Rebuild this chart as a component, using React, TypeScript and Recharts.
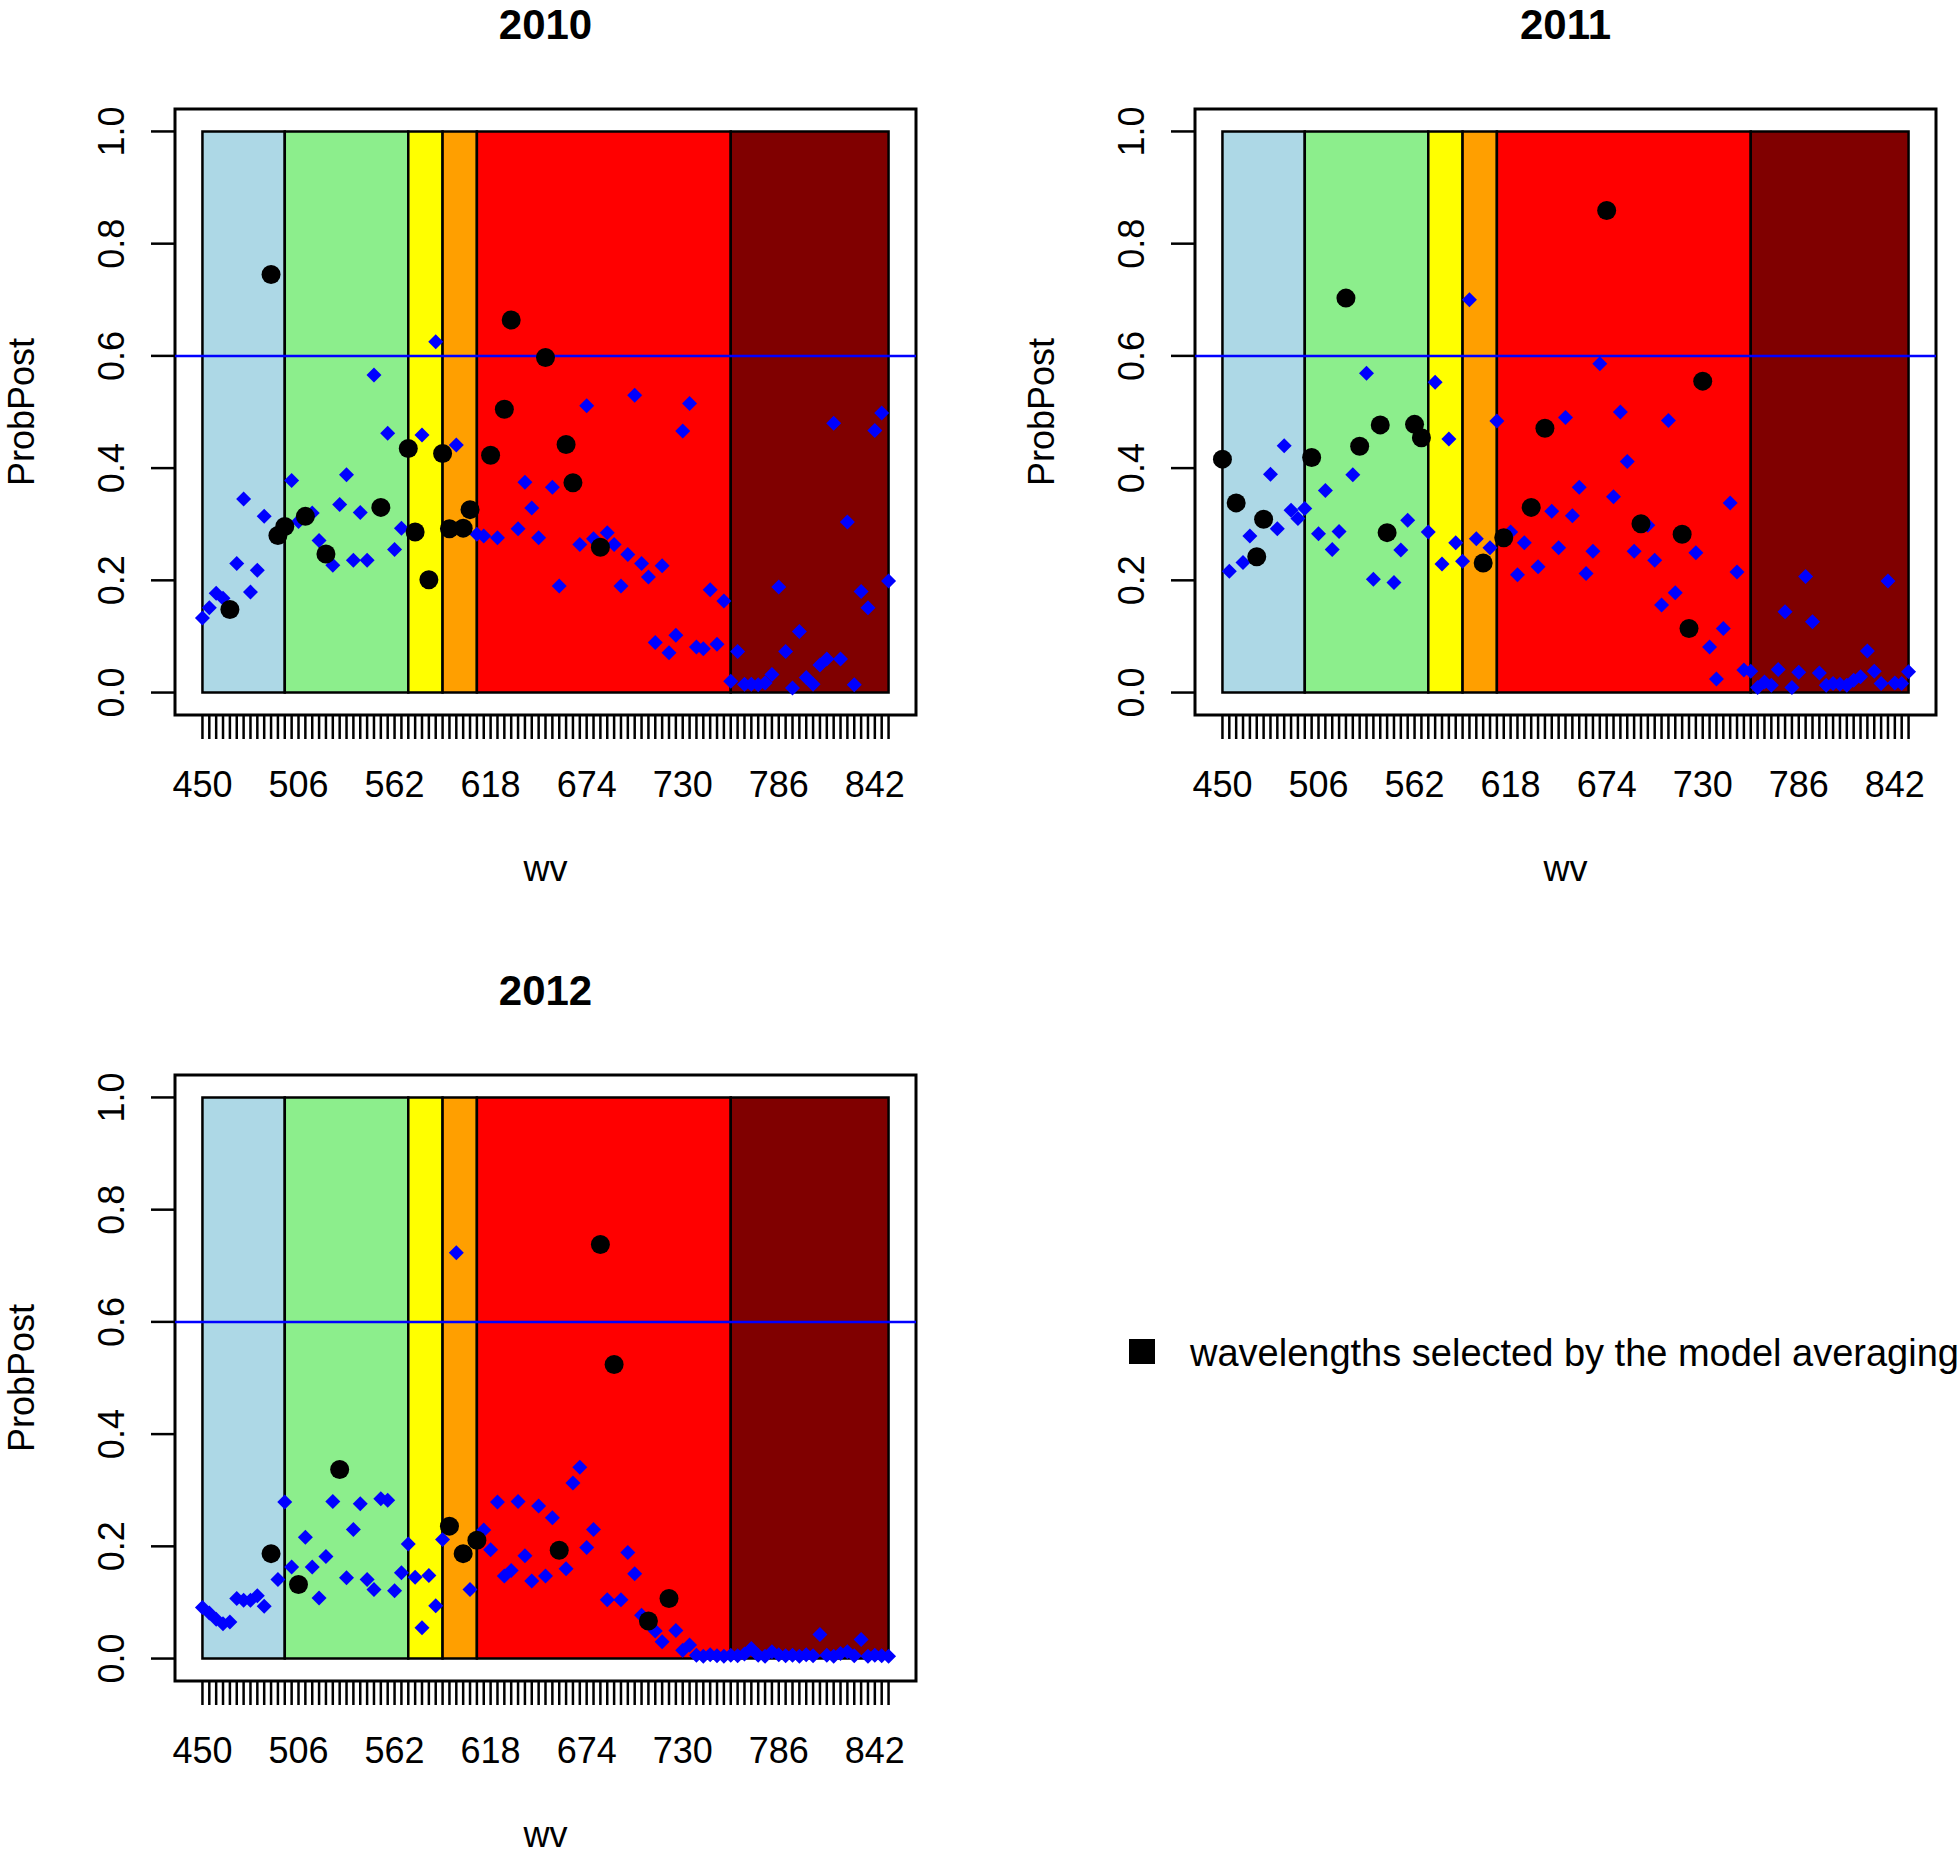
import { ScatterChart, Scatter, XAxis, YAxis, ReferenceArea, ReferenceLine } from "recharts";

const FONT = '"Liberation Sans", Arial, Helvetica, sans-serif';

// wavelengths (nm), one point per wavelength
const wavelengths = [
  450, 454, 458, 462, 466, 470, 474, 478, 482, 486, 490, 494, 498, 502, 506, 510, 514, 518, 522, 526,
  530, 534, 538, 542, 546, 550, 554, 558, 562, 566, 570, 574, 578, 582, 586, 590, 594, 598, 602, 606,
  610, 614, 618, 622, 626, 630, 634, 638, 642, 646, 650, 654, 658, 662, 666, 670, 674, 678, 682, 686,
  690, 694, 698, 702, 706, 710, 714, 718, 722, 726, 730, 734, 738, 742, 746, 750, 754, 758, 762, 766,
  770, 774, 778, 782, 786, 790, 794, 798, 802, 806, 810, 814, 818, 822, 826, 830, 834, 838, 842, 846,
  850,
];
const xLabels = [450, 506, 562, 618, 674, 730, 786, 842];
const yTicks = [0, 0.2, 0.4, 0.6, 0.8, 1.0];

const bandEdges = [450, 498, 570, 590, 610, 758, 850];
const bandColors = ["#ADD8E6", "#8CEE8C", "#FFFF00", "#FF9F00", "#FF0000", "#800000"];

const prob2010 = [
  0.133, 0.151, 0.177, 0.168, 0.148, 0.230, 0.345, 0.179, 0.218, 0.314,
  0.745, 0.280, 0.296, 0.378, 0.305, 0.314, 0.320, 0.271, 0.247, 0.227,
  0.335, 0.388, 0.236, 0.321, 0.236, 0.566, 0.330, 0.462, 0.255, 0.293,
  0.435, 0.286, 0.459, 0.201, 0.625, 0.426, 0.292, 0.441, 0.293, 0.326,
  0.282, 0.279, 0.423, 0.276, 0.505, 0.664, 0.292, 0.375, 0.329, 0.276,
  0.597, 0.366, 0.190, 0.442, 0.374, 0.264, 0.511, 0.274, 0.259, 0.285,
  0.264, 0.190, 0.246, 0.530, 0.230, 0.206, 0.089, 0.226, 0.071, 0.102,
  0.466, 0.515, 0.081, 0.078, 0.183, 0.086, 0.163, 0.020, 0.073, 0.015,
  0.015, 0.014, 0.017, 0.032, 0.188, 0.073, 0.008, 0.109, 0.027, 0.015,
  0.049, 0.060, 0.480, 0.060, 0.304, 0.014, 0.180, 0.151, 0.467, 0.498,
  0.199,
];
const selected2010 = [466, 490, 494, 498, 510, 522, 554, 570, 574, 582, 590, 594, 602, 606, 618, 626, 630, 650, 662, 666, 682];

const prob2011 = [
  0.416, 0.216, 0.338, 0.232, 0.279, 0.242, 0.309, 0.389, 0.292, 0.440,
  0.325, 0.310, 0.328, 0.419, 0.283, 0.360, 0.255, 0.287, 0.703, 0.388,
  0.439, 0.569, 0.202, 0.477, 0.285, 0.196, 0.254, 0.307, 0.478, 0.454,
  0.286, 0.553, 0.229, 0.452, 0.267, 0.234, 0.700, 0.274, 0.231, 0.258,
  0.484, 0.276, 0.286, 0.210, 0.267, 0.330, 0.224, 0.471, 0.323, 0.258,
  0.490, 0.315, 0.366, 0.212, 0.252, 0.586, 0.859, 0.349, 0.500, 0.412,
  0.252, 0.301, 0.298, 0.236, 0.156, 0.485, 0.178, 0.282, 0.114, 0.249,
  0.555, 0.081, 0.024, 0.114, 0.338, 0.215, 0.040, 0.038, 0.009, 0.019,
  0.013, 0.041, 0.144, 0.009, 0.036, 0.207, 0.126, 0.035, 0.013, 0.016,
  0.015, 0.013, 0.022, 0.028, 0.074, 0.038, 0.016, 0.199, 0.017, 0.016,
  0.037,
];
const selected2011 = [450, 458, 470, 474, 502, 522, 530, 542, 546, 562, 566, 602, 614, 630, 638, 674, 694, 718, 722, 730];

const prob2012 = [
  0.091, 0.081, 0.070, 0.062, 0.065, 0.107, 0.104, 0.104, 0.112, 0.093,
  0.187, 0.141, 0.279, 0.163, 0.132, 0.216, 0.163, 0.108, 0.182, 0.280,
  0.337, 0.144, 0.230, 0.276, 0.141, 0.123, 0.285, 0.282, 0.121, 0.153,
  0.204, 0.145, 0.055, 0.148, 0.094, 0.212, 0.236, 0.723, 0.187, 0.123,
  0.211, 0.229, 0.194, 0.279, 0.147, 0.157, 0.280, 0.183, 0.138, 0.272,
  0.147, 0.251, 0.193, 0.160, 0.313, 0.341, 0.198, 0.230, 0.738, 0.105,
  0.524, 0.105, 0.189, 0.151, 0.077, 0.067, 0.049, 0.030, 0.107, 0.050,
  0.015, 0.024, 0.006, 0.004, 0.007, 0.005, 0.004, 0.006, 0.005, 0.008,
  0.018, 0.006, 0.004, 0.012, 0.007, 0.005, 0.006, 0.004, 0.007, 0.005,
  0.043, 0.006, 0.004, 0.009, 0.012, 0.005, 0.034, 0.004, 0.006, 0.005,
  0.004,
];
const selected2012 = [490, 506, 530, 594, 602, 610, 658, 682, 690, 710, 722];

const threshold = 0.6;

const W = 1020;
const H = 966;
const BOX_L = 175;
const BOX_R = 916;
const BOX_T = 109;
const BOX_B = 715;
const MID_X = (BOX_L + BOX_R) / 2;
const MID_Y = (BOX_T + BOX_B) / 2;

function Diamond(props: any) {
  const { cx, cy } = props;
  const r = 7.5;
  return <path d={`M${cx},${cy - r}L${cx + r},${cy}L${cx},${cy + r}L${cx - r},${cy}Z`} fill="#0000FF" />;
}

function Dot(props: any) {
  return <circle cx={props.cx} cy={props.cy} r={9.5} fill="#000" />;
}

function XTick(props: any) {
  const { x, y, payload } = props;
  if (!xLabels.includes(payload.value)) return <g />;
  return (
    <text x={x} y={y + 58} textAnchor="middle" fontSize={36} fontFamily={FONT} fill="#000">
      {payload.value}
    </text>
  );
}

function YTick(props: any) {
  const { x, y, payload } = props;
  const bx = x - 27;
  return (
    <text x={bx} y={y} transform={`rotate(-90 ${bx} ${y})`} textAnchor="middle" fontSize={36} fontFamily={FONT} fill="#000">
      {Number(payload.value).toFixed(1)}
    </text>
  );
}

function Panel({ title, values, selected, left, top }: { title: string; values: number[]; selected: number[]; left: number; top: number }) {
  const pts = wavelengths.map((w, i) => ({ x: w, y: values[i] }));
  const diamonds = pts.filter((p) => !selected.includes(p.x));
  const dots = pts.filter((p) => selected.includes(p.x));

  return (
    <div style={{ position: "absolute", left, top, width: W, height: H }}>
      <ScatterChart width={W} height={H} margin={{ top: BOX_T, right: W - BOX_R, bottom: 0, left: 0 }}>
        <XAxis
          type="number"
          dataKey="x"
          domain={[434, 866]}
          allowDataOverflow
          ticks={wavelengths}
          interval={0}
          height={H - BOX_B}
          tickSize={24}
          tickMargin={0}
          axisLine={false}
          tickLine={{ stroke: "#000", strokeWidth: 2.5 }}
          tick={XTick}
        />
        <YAxis
          type="number"
          dataKey="y"
          domain={[-0.04, 1.04]}
          allowDataOverflow
          ticks={yTicks}
          interval={0}
          width={BOX_L}
          tickSize={24}
          tickMargin={0}
          axisLine={false}
          tickLine={{ stroke: "#000", strokeWidth: 2.5 }}
          tick={YTick}
        />
        {bandColors.map((c, i) => (
          <ReferenceArea
            key={c}
            x1={bandEdges[i]}
            x2={bandEdges[i + 1]}
            y1={0}
            y2={1}
            fill={c}
            fillOpacity={1}
            stroke="#000"
            strokeWidth={2.5}
          />
        ))}
        <ReferenceArea x1={434} x2={866} y1={-0.04} y2={1.04} fill="none" stroke="#000" strokeWidth={3} />
        <ReferenceLine y={threshold} stroke="#0000FF" strokeWidth={2.5} />
        <Scatter data={diamonds} shape={Diamond} isAnimationActive={false} />
        <Scatter data={dots} shape={Dot} isAnimationActive={false} />
      </ScatterChart>
      <svg width={W} height={H} style={{ position: "absolute", left: 0, top: 0, pointerEvents: "none" }}>
        <text x={MID_X} y={39} textAnchor="middle" fontSize={42} fontWeight="bold" fontFamily={FONT} fill="#000">
          {title}
        </text>
        <text x={MID_X} y={881} textAnchor="middle" fontSize={36} fontFamily={FONT} fill="#000">
          wv
        </text>
        <text x={34} y={MID_Y} transform={`rotate(-90 34 ${MID_Y})`} textAnchor="middle" fontSize={36} fontFamily={FONT} fill="#000">
          ProbPost
        </text>
      </svg>
    </div>
  );
}

export default function App() {
  return (
    <div style={{ position: "absolute", left: 0, top: 0, width: 1960, height: 1856, overflow: "hidden", background: "#fff" }}>
      <Panel title="2010" values={prob2010} selected={selected2010} left={0} top={0} />
      <Panel title="2011" values={prob2011} selected={selected2011} left={1020} top={0} />
      <Panel title="2012" values={prob2012} selected={selected2012} left={0} top={966} />
      <svg width={860} height={100} style={{ position: "absolute", left: 1100, top: 1310 }}>
        <rect x={29} y={29} width={26} height={25} fill="#000" />
        <text x={90} y={56} fontSize={38} fontFamily={FONT} fill="#000">
          wavelengths selected by the model averaging
        </text>
      </svg>
    </div>
  );
}
